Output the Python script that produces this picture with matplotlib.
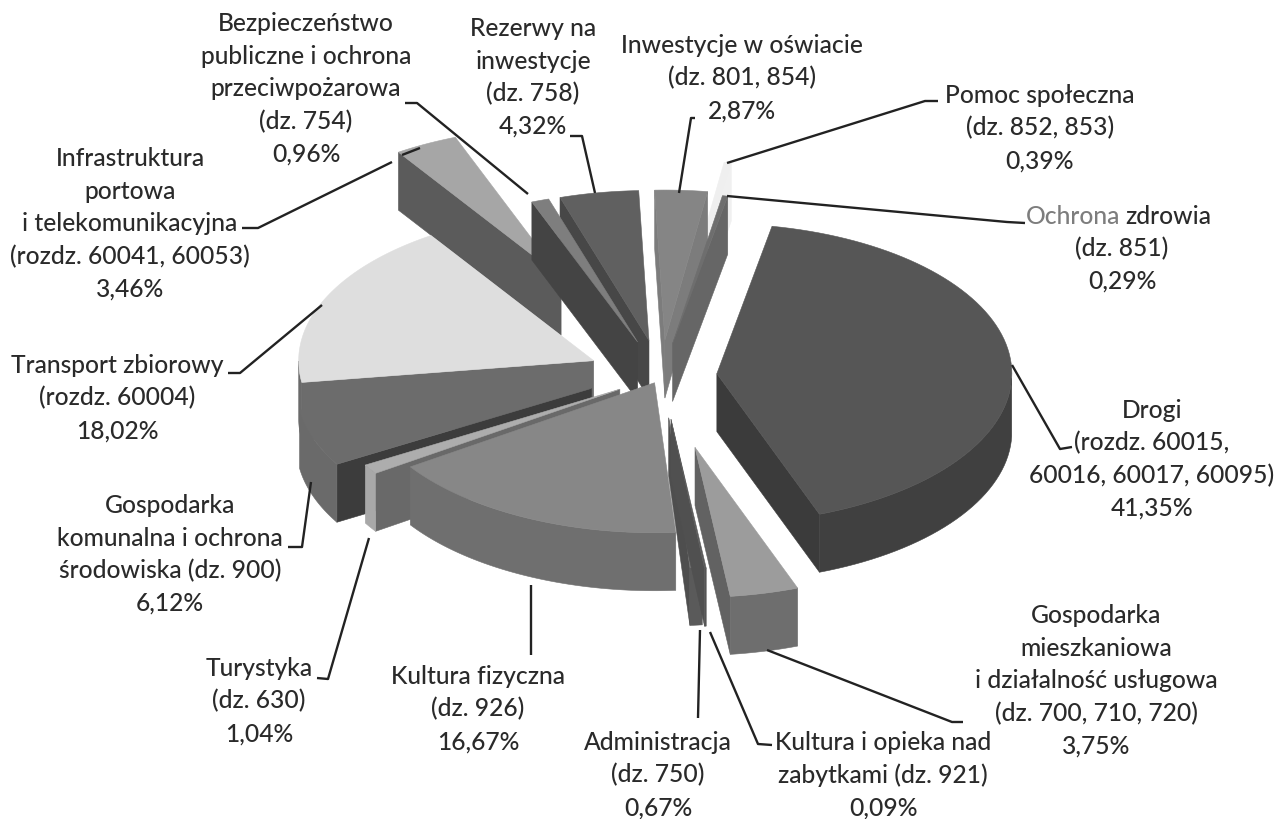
"""
Wykres kołowy 3D (rozsunięty) - struktura wydatków, wycinki w skali szarości
"""

import numpy as np
import matplotlib
matplotlib.use("Agg")
import matplotlib.pyplot as plt
from matplotlib.patches import Polygon

# ------------------- DANE -------------------
names = ["Inwestycje", "Pomoc", "Zdrowie", "Drogi", "Mieszkaniowa", "Zabytki", "Administracja",
         "Kultura fizyczna", "Turystyka", "Komunalna", "Transport", "Infrastruktura",
         "Bezpieczenstwo", "Rezerwy"]
values = [2.87, 0.39, 0.29, 41.35, 3.75, 0.09, 0.67, 16.67, 1.04, 6.12, 18.02, 3.46, 0.96, 4.32]
explode = [0.24, 0.44, 0.22, 0.19, 0.49, 0.29, 0.28, 0.05, 0.165, 0.25, 0.25, 0.74, 0.24, 0.24]

top_colors = ["#858585", "#efefef", "#6e6e6e", "#565656", "#9c9c9c", "#5a5a5a", "#707070",
              "#878787", "#adadad", "#6c6c6c", "#dedede", "#a6a6a6", "#7e7e7e", "#606060"]
arc_colors = ["#777777", "#e6e6e6", "#666666", "#404040", "#6e6e6e", "#555555", "#5a5a5a",
              "#6f6f6f", "#a8a8a8", "#6a6a6a", "#6a6a6a", "#5c5c5c", "#454545", "#484848"]
side_colors = ["#7c7c7c", "#f0f0f0", "#666666", "#3b3b3b", "#626262", "#505050", "#4e4e4e",
               "#6a6a6a", "#696969", "#3c3c3c", "#6c6c6c", "#5b5b5b", "#444444", "#474747"]

labels = [
    (306, 25, ["Bezpieczeństwo", "publiczne i ochrona", "przeciwpożarowa", "(dz. 754)", "0,96%"]),
    (533, 30, ["Rezerwy na", "inwestycje", "(dz. 758)", "4,32%"]),
    (742, 47, ["Inwestycje w oświacie", "(dz. 801, 854)", "2,87%"]),
    (1040, 97, ["Pomoc społeczna", "(dz. 852, 853)", "0,39%"]),
    (1122, 250, ["(dz. 851)", "0,29%"]),
    (1152, 412, ["Drogi", "(rozdz. 60015,", "60016, 60017, 60095)", "41,35%"]),
    (1096, 617, ["Gospodarka", "mieszkaniowa", "i działalność usługowa", "(dz. 700, 710, 720)", "3,75%"]),
    (883, 744, ["Kultura i opieka nad", "zabytkami (dz. 921)", "0,09%"]),
    (658, 744, ["Administracja", "(dz. 750)", "0,67%"]),
    (478, 678, ["Kultura fizyczna", "(dz. 926)", "16,67%"]),
    (259, 670, ["Turystyka", "(dz. 630)", "1,04%"]),
    (170, 507, ["Gospodarka", "komunalna i ochrona", "środowiska (dz. 900)", "6,12%"]),
    (117, 367, ["Transport zbiorowy", "(rozdz. 60004)", "18,02%"]),
    (130, 160, ["Infrastruktura", "portowa", "i telekomunikacyjna", "(rozdz. 60041, 60053)", "3,46%"]),
]

leaders = [
    [(405, 103), (417, 103), (528, 194)],
    [(570, 136), (582, 136), (595, 193)],
    [(695, 118), (691, 118), (679, 193)],
    [(938, 101), (925, 101), (727, 163)],
    [(1025, 223), (1007, 222), (727, 196)],
    [(1072, 447), (1060, 449), (1012, 365)],
    [(963, 722), (952, 722), (767, 650)],
    [(772, 745), (758, 744), (710, 632)],
    [(698, 718), (700, 630)],
    [(531, 655), (531, 585)],
    [(317, 678), (328, 679), (369, 538)],
    [(288, 547), (302, 547), (311, 482)],
    [(228, 373), (240, 373), (322, 305)],
    [(242, 228), (258, 228), (392, 162)],
    [(402, 155), (420, 148)],
]

# ------------------- GEOMETRIA -------------------
CX, CY = 661, 376     # środek koła w pikselach
RX, RY = 295, 150     # półosie elipsy
DEPTH = 58            # grubość koła
ROT = -2              # obrót w stopniach

plt.rcParams["font.family"] = ["Lato", "DejaVu Sans"]
fig = plt.figure(figsize=(12.79, 8.19), dpi=100, facecolor="white")
ax = fig.add_axes([0, 0, 1, 1])
ax.set_xlim(0, 1279)
ax.set_ylim(819, 0)
ax.axis("off")


def pt(theta, r=1.0, ox=0.0, oy=0.0):
    t = np.radians(theta)
    return ox + r * RX * np.sin(t), oy - r * RY * np.cos(t)


# kąty liczone zgodnie z ruchem wskazówek zegara od góry
edges = ROT + 360 * np.cumsum([0] + values) / sum(values)
slices = []
for i in range(len(values)):
    t1, t2 = edges[i], edges[i + 1]
    ax_, ay_ = pt((t1 + t2) / 2, explode[i], CX, CY)
    depth_key = ay_ - 0.6 * RY * np.cos(np.radians((t1 + t2) / 2))
    slices.append((depth_key, i, t1, t2, ax_, ay_))

# malowanie od tyłu do przodu
for depth_key, i, t1, t2, ox, oy in sorted(slices):
    arc = np.linspace(t1, t2, 80)
    xa, ya = pt(arc, 1.0, ox, oy)

    # ścianki promieniowe widoczne od strony obserwatora
    for t, visible in [(t1, np.sin(np.radians(t1)) < 0), (t2, np.sin(np.radians(t2)) > 0)]:
        if visible:
            xe, ye = pt(t, 1.0, ox, oy)
            wall = [(ox, oy), (xe, ye), (xe, ye + DEPTH), (ox, oy + DEPTH)]
            ax.add_patch(Polygon(wall, fc=side_colors[i], ec=side_colors[i], lw=0.4))

    # ścianka zewnętrzna (tylko przednia połowa)
    front = arc[(arc > 90) & (arc < 270)]
    if len(front) > 1:
        xf, yf = pt(front, 1.0, ox, oy)
        outer = list(zip(xf, yf)) + list(zip(xf[::-1], yf[::-1] + DEPTH))
        ax.add_patch(Polygon(outer, fc=arc_colors[i], ec=arc_colors[i], lw=0.4))

    # wierzch wycinka
    ax.add_patch(Polygon([(ox, oy)] + list(zip(xa, ya)), fc=top_colors[i], ec=top_colors[i], lw=0.4))

# ------------------- LINIE I OPISY -------------------
for line in leaders:
    xs, ys = zip(*line)
    ax.plot(xs, ys, color="#222222", lw=1.7, solid_capstyle="butt")

LINE_H = 32.6
FS = 17.7
TXT = "#2a2a2a"
for x, y, lines in labels:
    for k, txt in enumerate(lines):
        ax.text(x, y + k * LINE_H + 6, txt, ha="center", va="baseline", fontsize=FS,
                color=TXT, fontweight="medium")

# "Ochrona" jest w oryginale wyraźnie jaśniejsze niż reszta opisu
ax.text(1120, 224, "Ochrona", ha="right", va="baseline", fontsize=FS, color="#7d7d7d",
        fontweight="medium")
ax.text(1125, 224, "zdrowia", ha="left", va="baseline", fontsize=FS, color=TXT,
        fontweight="medium")

fig.savefig("out.png", dpi=100, facecolor="white")
